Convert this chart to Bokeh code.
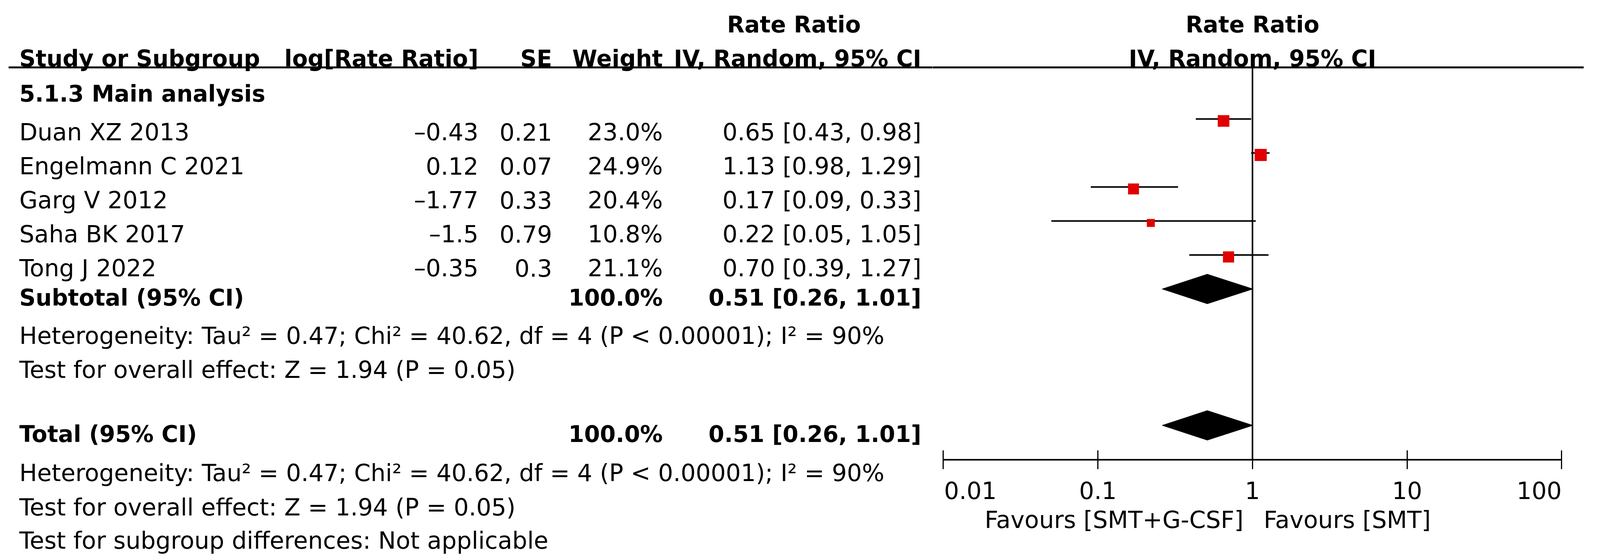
import math
from bokeh.plotting import figure
from bokeh.layouts import row, column
from bokeh.models import Range1d, FixedTicker, ColumnDataSource, CustomJSTickFormatter
from bokeh.core.properties import value
from bokeh.embed import file_html
from bokeh.resources import INLINE

# ---------------- data ----------------
studies = ["Duan XZ 2013", "Engelmann C 2021", "Garg V 2012", "Saha BK 2017", "Tong J 2022"]
log_rr = [-0.43, 0.12, -1.77, -1.5, -0.35]
se = [0.21, 0.07, 0.33, 0.79, 0.3]
weight = [23.0, 24.9, 20.4, 10.8, 21.1]
rr = [0.65, 1.13, 0.17, 0.22, 0.70]
rr_lo = [0.43, 0.98, 0.09, 0.05, 0.39]
rr_hi = [0.98, 1.29, 0.33, 1.05, 1.27]
pooled_rr = 0.51
pooled_lo = 0.26
pooled_hi = 1.01
total_weight = 100.0
tick_values = [0.01, 0.1, 1, 10, 100]
tick_labels = ["0.01", "0.1", "1", "10", "100"]

group_title = "5.1.3 Main analysis"
het_text = "Heterogeneity: Tau\u00b2 = 0.47; Chi\u00b2 = 40.62, df = 4 (P < 0.00001); I\u00b2 = 90%"
overall_text = "Test for overall effect: Z = 1.94 (P = 0.05)"
subgroup_text = "Test for subgroup differences: Not applicable"
favours_left = "Favours [SMT+G-CSF]"
favours_right = "Favours [SMT]"

# ---------------- layout ----------------
# the visible page is 4096 px wide: horizontal positions are scaled from the
# 4295 px reference layout, vertical ones are kept.
SX = 4096.0 / 4295.0


def X(r):
    return r * SX


M = 8
PAGE_W = 4096
W = PAGE_W - 2 * M        # 4080
H = 1417
SPLIT = 2395              # page x boundary between table and forest plot
AXIS_Y = 1184
P = 28                    # axis panel height
ONE_X = X(3370.0)
DEC = X(415.0)
FONT = "DejaVu Sans"
REG = "60.5px"
BOLD = "58px"

COL_NAME = X(66) - 6
COL_LOG = X(1292)
COL_SE = X(1490)
COL_W = X(1787)
COL_CI = X(2481)
ROW0 = 345
ROW_STEP = 87
SUB_BASE = 769
TOT_BASE = 1118


def log_at(px):
    return 10 ** ((px - ONE_X) / DEC)


def fmt_num(v):
    return str(v).replace("-", "\u2013")


def base_fig(width, height, xr, yr, **kw):
    f = figure(width=width, height=height, x_range=xr, y_range=yr,
               output_backend="svg", toolbar_location=None,
               min_border_left=0, min_border_right=0, min_border_top=0,
               outline_line_color=None, **kw)
    f.grid.visible = False
    return f


def txt(f, x, y, s, align="left", bold=False, **kw):
    f.text(x=[x], y=[y], text=[s], text_align=align, text_baseline="alphabetic",
           text_font=value(FONT), text_font_size=value(BOLD if bold else REG),
           text_font_style="bold" if bold else "normal", text_color="black", **kw)


# ================= left: table =================
L = base_fig(SPLIT - M, H, Range1d(M, SPLIT), Range1d(M + H, M),
             x_axis_location=None, y_axis_location=None, min_border_bottom=0)

txt(L, X(2139), 70, "Rate Ratio", "center", True)
txt(L, COL_NAME, 157, "Study or Subgroup", "left", True)
txt(L, COL_LOG, 157, "log[Rate Ratio]", "right", True)
txt(L, COL_SE, 157, "SE", "right", True)
txt(L, COL_W, 157, "Weight", "right", True)
txt(L, COL_CI, 157, "IV, Random, 95% CI", "right", True)
L.segment(x0=[X(31)], x1=[SPLIT], y0=[180], y1=[180], line_width=5, line_color="black")
txt(L, COL_NAME, 247, group_title, "left", True)

n = len(studies)
base = [ROW0 + ROW_STEP * i for i in range(n)]
src = ColumnDataSource(dict(
    name=studies,
    logtxt=[fmt_num(v) for v in log_rr],
    setxt=[fmt_num(v) for v in se],
    wtxt=["%.1f%%" % v for v in weight],
    citxt=["%.2f [%.2f, %.2f]" % (a, b, c) for a, b, c in zip(rr, rr_lo, rr_hi)],
    base=base,
    sq_y=[b - 28 for b in base],
    ln_y=[b - 33 for b in base],
    rr=rr, lo=rr_lo, hi=rr_hi,
    size=[6.2 * math.sqrt(w) for w in weight],
    x_name=[COL_NAME] * n, x_log=[COL_LOG] * n, x_se=[COL_SE] * n,
    x_w=[COL_W] * n, x_ci=[COL_CI] * n,
))
common = dict(source=src, y="base", text_baseline="alphabetic", text_font=value(FONT),
              text_font_size=value(REG), text_color="black")
L.text(x="x_name", text="name", text_align="left", **common)
L.text(x="x_log", text="logtxt", text_align="right", **common)
L.text(x="x_se", text="setxt", text_align="right", **common)
L.text(x="x_w", text="wtxt", text_align="right", **common)
L.text(x="x_ci", text="citxt", text_align="right", **common)

pooled_txt = "%.2f [%.2f, %.2f]" % (pooled_rr, pooled_lo, pooled_hi)
for b, title in [(SUB_BASE, "Subtotal (95% CI)"), (TOT_BASE, "Total (95% CI)")]:
    txt(L, COL_NAME, b, title, "left", True)
    txt(L, COL_W, b, "%.1f%%" % total_weight, "right", True)
    txt(L, COL_CI, b, pooled_txt, "right", True)

txt(L, COL_NAME, 866, het_text)
txt(L, COL_NAME, 953, overall_text)
txt(L, COL_NAME, 1217, het_text)
txt(L, COL_NAME, 1305, overall_text)
txt(L, COL_NAME, 1390, subgroup_text)

# ================= right: forest plot =================
xr = Range1d(log_at(SPLIT), log_at(M + W))
R1 = base_fig(M + W - SPLIT, AXIS_Y - M + P, xr, Range1d(AXIS_Y, M),
              x_axis_type="log", x_axis_location="below", y_axis_location=None,
              min_border_bottom=P)

txt(R1, 1, 70, "Rate Ratio", "center", True)
txt(R1, 1, 157, "IV, Random, 95% CI", "center", True)
R1.segment(x0=[log_at(SPLIT)], x1=[log_at(X(4259))], y0=[180], y1=[180], line_width=5, line_color="black")
R1.segment(x0=[1], x1=[1], y0=[180], y1=[AXIS_Y], line_width=4, line_color="black")
R1.segment(x0="lo", x1="hi", y0="ln_y", y1="ln_y", source=src, line_width=4, line_color="black")
R1.scatter(x="rr", y="sq_y", size="size", marker="square", source=src,
           fill_color="#e00000", line_color=None)

half = 38
dia_c = [SUB_BASE - 22, TOT_BASE - 22]
R1.patches(xs=[[pooled_lo, pooled_rr, pooled_hi, pooled_rr] for _ in dia_c],
           ys=[[c, c - half, c, c + half] for c in dia_c],
           fill_color="black", line_color="black", line_width=1)

ax = R1.xaxis[0]
ax.ticker = FixedTicker(ticks=tick_values, minor_ticks=[])
ax.bounds = (tick_values[0], tick_values[-1])
ax.formatter = CustomJSTickFormatter(code="return ''")
ax.axis_line_width = 4
ax.axis_line_color = "black"
ax.major_tick_line_width = 3
ax.major_tick_line_color = "black"
ax.major_tick_in = 24
ax.major_tick_out = 24
ax.minor_tick_line_color = None
ax.major_label_text_font_size = "0px"
ax.major_label_standoff = 0

R2 = base_fig(M + W - SPLIT, M + H - AXIS_Y - P, xr, Range1d(M + H, AXIS_Y + P),
              x_axis_type="log", x_axis_location=None, y_axis_location=None,
              min_border_bottom=0)
aligns = ["left", "center", "center", "center", "right"]
offs = [X(2), 0, 0, 0, 0]
for tv, tl, al, of in zip(tick_values, tick_labels, aligns, offs):
    txt(R2, tv, 1262, tl, al, x_offset=of)
txt(R2, 1, 1337, favours_left, "right", x_offset=-X(24))
txt(R2, 1, 1337, favours_right, "left", x_offset=X(30))

layout = row(L, column(R1, R2, spacing=0), spacing=0)
open("out.html", "w").write(file_html(layout, INLINE))
